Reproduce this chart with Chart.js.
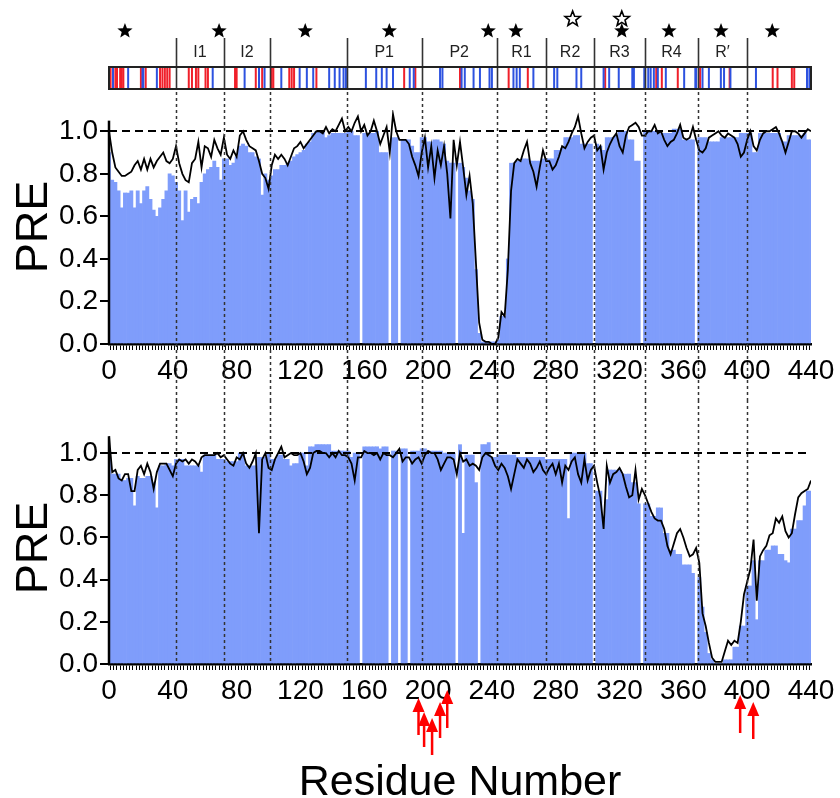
<!DOCTYPE html>
<html><head><meta charset="utf-8">
<script src="https://cdn.jsdelivr.net/npm/chart.js@4"></script>
<style>
html,body{margin:0;padding:0;background:#fff;}
#wrap{position:relative;width:840px;height:798px;overflow:hidden;}
#c1{position:absolute;left:0;top:0;}
#c2{position:absolute;left:0;top:400px;}
</style></head><body>
<div id="wrap"><canvas id="c1" width="840" height="400"></canvas><canvas id="c2" width="840" height="398"></canvas></div>
<script>
// ---- DATA (values every 2 residues, residue 0..440) ----
const topLine = [1.00,0.90,0.83,0.81,0.79,0.79,0.80,0.81,0.84,0.86,
 0.82,0.87,0.82,0.87,0.83,0.86,0.88,0.90,0.86,0.85,
 0.87,0.93,0.85,0.80,0.77,0.76,0.85,0.87,0.95,0.83,
 0.93,0.92,0.88,0.96,0.92,0.89,0.97,0.89,0.87,0.91,
 0.88,0.98,1.00,0.96,0.93,0.92,0.91,0.86,0.80,0.78,
 0.73,0.84,0.89,0.87,0.89,0.87,0.84,0.88,0.92,0.93,
 0.95,0.92,0.94,0.96,0.98,1.00,1.00,0.99,1.02,0.99,
 1.01,1.00,1.03,1.06,1.00,1.02,1.00,1.04,1.07,1.00,
 1.03,0.98,1.00,1.05,1.00,0.94,0.98,1.02,0.90,1.08,
 1.00,0.96,0.96,0.96,0.94,0.88,0.84,0.79,0.90,0.97,
 0.83,0.93,0.78,0.91,0.84,0.93,0.80,0.59,0.96,0.84,
 0.95,0.83,0.70,0.79,0.66,0.38,0.10,0.02,0.01,0.01,
 0.00,0.00,0.03,0.15,0.13,0.35,0.72,0.85,0.87,0.86,
 0.91,0.95,0.85,0.81,0.74,0.83,0.91,0.86,0.86,0.82,
 0.84,0.88,0.93,0.92,0.95,0.99,1.02,1.07,0.99,0.92,
 0.95,0.97,0.98,0.91,0.93,0.82,0.90,0.94,0.97,0.99,
 0.93,0.90,0.98,1.02,1.03,1.04,1.02,0.98,0.98,1.00,
 1.00,1.03,0.99,1.00,0.96,0.93,0.95,0.96,0.99,1.03,
 0.97,0.96,0.97,1.02,0.96,0.91,0.90,0.92,0.97,0.98,
 0.99,1.00,0.98,0.97,0.99,0.98,0.97,0.94,0.88,0.90,
 0.96,1.00,0.93,0.91,0.96,0.99,1.00,1.00,1.01,1.02,
 0.99,0.95,0.90,0.95,1.00,1.00,0.99,0.97,0.99,1.01,
 1.00];
const topBars = [0.90,0.77,0.76,0.72,0.64,0.71,0.71,0.72,0.64,0.72,
 0.66,0.72,0.74,0.68,0.63,0.60,0.64,0.68,0.72,0.80,
 0.79,0.76,0.72,0.58,0.72,0.62,0.68,0.69,0.66,0.76,
 0.80,0.82,0.83,0.86,0.83,0.77,0.87,0.87,0.84,0.85,
 0.88,0.93,0.94,0.93,0.90,0.90,0.88,0.87,0.70,0.80,
 0.77,0.79,0.82,0.82,0.84,0.84,0.85,0.86,0.88,0.89,
 0.90,0.91,0.94,0.95,0.99,1.00,1.00,1.00,0.97,0.98,
 0.99,0.99,0.99,0.99,0.99,1.00,1.00,0.98,0.98,null,
 0.99,0.99,0.99,0.99,1.00,0.90,0.90,0.90,null,0.97,
 0.97,null,0.96,0.96,0.96,0.93,0.90,0.90,0.97,0.97,
 0.95,0.95,0.96,0.96,0.95,0.94,0.86,0.85,0.85,null,
 0.85,0.83,0.78,0.72,0.68,0.35,0.05,0.01,0.01,0.01,
 0.01,0.01,0.02,0.13,0.13,0.40,0.85,0.85,0.86,0.86,
 0.87,0.87,0.86,0.86,0.86,0.86,0.87,0.87,0.87,0.87,
 0.91,0.91,0.92,0.97,0.97,0.97,0.98,0.98,0.94,0.94,
 0.94,0.94,null,0.94,0.93,0.91,0.97,0.97,0.97,0.98,
 1.00,1.00,1.00,0.96,0.96,0.86,0.86,null,1.00,1.00,
 1.00,1.00,1.00,0.99,0.99,0.99,0.99,1.01,1.01,1.01,
 0.96,0.96,0.96,0.96,null,0.97,0.97,0.97,0.95,0.95,
 0.95,0.95,0.97,0.97,0.97,0.97,0.97,0.97,0.99,0.99,
 0.99,0.99,0.90,0.90,0.99,0.99,0.99,0.99,0.99,0.99,
 0.99,0.95,0.95,0.98,0.98,0.98,0.98,0.98,0.99,0.96,
 0.96];
const botLine = [1.08,0.91,0.92,0.88,0.87,0.90,0.90,0.82,0.82,0.92,
 0.94,0.90,0.95,0.91,0.83,0.91,0.95,0.95,0.95,0.92,
 0.89,0.95,0.97,0.96,0.97,0.95,0.97,0.96,0.94,0.98,
 0.99,0.99,0.99,0.99,1.00,0.98,0.99,0.97,0.95,0.94,
 0.98,0.97,1.00,0.95,0.93,0.96,1.00,0.62,0.97,1.00,
 0.93,0.92,0.97,1.00,1.03,0.98,0.99,1.00,0.99,0.99,
 1.00,0.96,0.90,0.93,1.00,1.01,1.01,1.00,1.00,0.98,
 1.00,0.98,1.01,0.99,0.99,0.98,0.95,0.87,0.98,0.98,
 1.01,1.00,1.00,0.99,1.00,0.97,1.00,0.99,0.99,0.98,
 1.00,1.02,0.96,0.98,0.98,0.95,0.97,0.98,0.95,0.99,
 1.01,1.00,1.00,0.97,0.92,0.95,0.98,0.98,0.97,0.90,
 1.00,0.96,0.97,0.94,0.95,0.94,0.92,0.98,1.00,0.99,
 0.98,0.94,0.92,0.95,0.93,0.89,0.83,0.90,0.97,0.95,
 0.93,0.97,0.95,0.91,0.93,0.96,0.92,0.90,0.93,0.95,
 0.90,0.95,0.86,0.94,0.92,0.96,0.98,0.90,0.86,0.97,
 0.87,0.92,0.94,0.86,0.79,0.64,0.94,0.86,0.90,0.91,
 0.93,0.90,0.84,0.79,0.80,0.92,0.78,0.83,0.80,0.76,
 0.72,0.69,0.68,0.68,0.64,0.56,0.52,0.57,0.62,0.64,
 0.60,0.55,0.51,0.52,0.55,0.48,0.24,0.18,0.10,0.03,
 0.01,0.01,0.01,0.06,0.11,0.09,0.11,0.10,0.20,0.33,
 0.39,0.45,0.59,0.30,0.51,0.54,0.56,0.61,0.62,0.69,
 0.67,0.70,0.63,0.60,0.62,0.71,0.79,0.81,0.82,0.83,
 0.87];
const botBars = [1.01,0.90,0.90,0.90,0.87,0.87,0.88,0.88,0.75,0.89,
 0.88,0.88,0.89,0.89,0.86,0.74,0.94,0.94,0.95,0.95,
 0.94,0.97,0.97,0.97,0.94,0.94,0.94,0.94,0.94,0.91,
 0.99,0.99,0.99,0.99,0.97,0.97,0.97,0.96,0.96,0.96,
 0.96,1.00,1.00,0.94,0.94,0.94,0.94,0.98,0.98,0.98,
 1.00,0.97,0.97,0.99,0.99,0.97,0.97,0.94,0.95,0.95,
 1.00,1.00,0.94,1.03,1.03,1.04,1.04,1.04,1.04,1.04,
 1.01,1.01,1.01,1.01,1.01,1.01,0.98,1.00,1.00,null,
 1.03,1.03,1.03,1.03,1.03,1.02,1.03,1.03,null,1.01,
 1.01,null,1.02,1.02,null,1.01,1.01,1.01,1.02,1.02,
 1.01,1.01,1.01,1.01,1.01,1.00,1.00,1.00,1.00,null,
 1.04,0.62,0.99,0.99,0.99,0.86,null,1.04,1.04,1.05,
 0.98,0.98,0.99,0.99,0.99,0.99,0.99,0.99,0.98,0.98,
 0.98,0.98,0.98,0.98,0.98,0.98,0.98,0.97,0.97,0.97,
 0.97,0.97,0.97,0.97,0.69,1.00,1.00,1.00,1.00,1.00,
 0.95,0.95,null,0.82,0.82,0.68,0.78,0.92,0.92,0.92,
 0.92,0.90,0.90,0.90,0.86,0.86,0.76,null,0.76,0.76,
 0.70,0.70,0.74,0.74,0.62,0.62,0.54,0.54,0.52,0.52,
 0.47,0.47,0.47,0.43,null,0.41,0.27,0.15,0.05,0.02,
 0.00,0.00,0.00,0.02,0.02,0.02,0.08,0.08,0.18,0.18,
 0.37,0.37,0.49,0.21,0.49,0.49,0.54,0.54,0.56,0.56,
 0.52,0.52,0.49,0.48,0.64,0.64,0.68,0.68,0.75,0.82,
 0.82];

// x tick labels shown (every 40 residues)
const xTickLabels = [0,40,80,120,160,200,240,280,320,360,400,440];
// domain map
const domainBounds = [42,72,101,149,196,243,274,304,336,369,400];
const domainNames = ['I1','I2','P1','P2','R1','R2','R3','R4','R\u2032'];
const domainStart = [42,72,149,196,243,274,304,336,369];
const domainEnd   = [72,101,196,243,274,304,336,369,400];
const redSites = [1,4,5,7,8,9,20,23,32,33.5,35,36.5,38,50,52,54.5,56,60.5,62,79,80,92,96,102,103,113,114.5,116,130,185,192,220,250.5,262.5,311,343,346.5,356.5,370.5,389,416,419,428,429.5];
const blueSites = [2.5,12,21,21.5,30,65,85,94,97.5,108,119.5,124,128,138,141.5,144.5,147,148.5,161,167.5,171,174,178,188.5,191,207.5,209,221,223,228.5,232.5,238.5,240,253.5,255.5,257.5,266,279,281,293,296,310,313.5,319.5,328,329,335.5,338,339.5,341.5,344,349,360.5,367.5,368,372,376,383.5,385.5,389.5,405.5,437.5,439];
const filledStars = [10,69,123,175.7,237.7,255,321.4,351,383.6,415.7];
const openStars = [290.6,321.4];
// mutation sites marked by red arrows under the lower panel
const arrowSites = [194,197.5,202.5,207.5,212,395.6,403.8];

// ---- styling ----
const FONT = "'Liberation Sans', Arial, Helvetica, sans-serif";
const BAR_COLOR = '#7f9dfb';
const arrowY = [[698,735],[712,747],[718,755],[702,738],[690,728],[695,733],[702,739]]; // tip, tail (page px)

const residues = topLine.map((_, i) => i * 2);
const toXY = arr => arr.map((v, i) => ({x: residues[i], y: v}));

function seg(ctx, x0, y0, x1, y1) { ctx.beginPath(); ctx.moveTo(x0, y0); ctx.lineTo(x1, y1); ctx.stroke(); }
function starPath(ctx, cx, cy, R, r) {
  ctx.beginPath();
  for (let i = 0; i < 10; i++) {
    const ang = -Math.PI / 2 + i * Math.PI / 5;
    const rad = i % 2 ? r : R;
    ctx.lineTo(cx + rad * Math.cos(ang), cy + rad * Math.sin(ang));
  }
  ctx.closePath();
}

const refLines = {
  id: 'refLines',
  afterDatasetsDraw(chart, args, opts) {
    const {ctx, chartArea: a, scales: {x, y}} = chart;
    ctx.save();
    ctx.strokeStyle = '#000'; ctx.lineWidth = 2; ctx.setLineDash([8, 5]);
    const yy = Math.round(y.getPixelForValue(1));
    seg(ctx, a.left, yy, a.right, yy);
    ctx.setLineDash([3, 3]); ctx.lineWidth = 1.5; ctx.strokeStyle = '#333';
    domainBounds.forEach(b => {
      const px = Math.round(x.getPixelForValue(b)) + 0.5;
      seg(ctx, px, opts.vTop, px, opts.vBottom === 'area' ? a.bottom : chart.height);
    });
    ctx.setLineDash([]); ctx.strokeStyle = '#000'; ctx.lineWidth = 2.5;
    seg(ctx, a.left, y.getPixelForValue(0) + 1, a.left, y.getPixelForValue(opts.axisTop));
    ctx.restore();
  }
};

const header = {
  id: 'header',
  afterDraw(chart) {
    const {ctx, scales: {x}} = chart;
    const X = v => x.getPixelForValue(v);
    const top = 67, bot = 89;
    ctx.save();
    ctx.lineWidth = 2;
    ctx.strokeStyle = '#f0202a';
    redSites.forEach(r => seg(ctx, X(r), top, X(r), bot));
    ctx.strokeStyle = '#2d52e0';
    blueSites.forEach(r => seg(ctx, X(r), top, X(r), bot));
    ctx.strokeStyle = '#333'; ctx.lineWidth = 1.6;
    domainBounds.forEach(b => { const px = Math.round(X(b)) + 0.5; seg(ctx, px, 38, px, bot); });
    ctx.strokeStyle = '#222'; ctx.lineWidth = 2;
    ctx.strokeRect(X(0), top, X(440) - X(0), bot - top);
    ctx.fillStyle = '#222'; ctx.font = '16px ' + FONT; ctx.textAlign = 'center'; ctx.textBaseline = 'middle';
    domainNames.forEach((n, i) => ctx.fillText(n, (X(domainStart[i]) + X(domainEnd[i])) / 2, 53));
    // stars
    openStars.forEach(r => {
      starPath(ctx, X(r), 19, 8, 3.4);
      ctx.fillStyle = '#fff'; ctx.fill();
      ctx.strokeStyle = '#000'; ctx.lineWidth = 1.6; ctx.lineJoin = 'miter'; ctx.stroke();
    });
    ctx.fillStyle = '#000';
    filledStars.forEach(r => { starPath(ctx, X(r), 31, 8, 3.4); ctx.fill(); });
    ctx.restore();
  }
};

const arrows = {
  id: 'arrows',
  afterDraw(chart) {
    const {ctx, scales: {x}} = chart;
    ctx.save();
    ctx.strokeStyle = '#ff0000'; ctx.fillStyle = '#ff0000'; ctx.lineWidth = 2.5;
    arrowSites.forEach((r, i) => {
      const px = x.getPixelForValue(r);
      const tip = arrowY[i][0] - 400, tail = arrowY[i][1] - 400;
      seg(ctx, px, tail, px, tip + 10);
      ctx.beginPath(); ctx.moveTo(px, tip); ctx.lineTo(px - 6, tip + 14); ctx.lineTo(px + 6, tip + 14); ctx.closePath(); ctx.fill();
    });
    ctx.restore();
  }
};

function makeChart(id, bars, line, cfg) {
  return new Chart(document.getElementById(id), {
    type: 'bar',
    data: { datasets: [
      { type: 'line', data: toXY(line), borderColor: '#000', borderWidth: 1.8, pointRadius: 0, tension: 0, order: 0, spanGaps: true },
      { type: 'bar', data: toXY(bars), backgroundColor: BAR_COLOR, borderWidth: 0, barPercentage: 1, categoryPercentage: 1, order: 1 }
    ]},
    options: {
      responsive: false, animation: false, devicePixelRatio: 1,
      layout: { padding: { top: cfg.padTop, right: 29, left: 0, bottom: 0 } },
      plugins: { legend: { display: false }, tooltip: { enabled: false }, refLines: cfg.ref },
      scales: {
        x: {
          type: 'linear', min: 0, max: 440, offset: false, z: 1,
          grid: { display: true, drawOnChartArea: false, drawTicks: true, tickLength: 6, color: '#000', lineWidth: 1 },
          border: { display: true, color: '#000', width: 2.5 },
          ticks: { stepSize: 2, autoSkip: false, maxRotation: 0, minRotation: 0, maxTicksLimit: 1000, padding: 4, color: '#000',
            font: { family: FONT, size: 28 },
            callback: v => xTickLabels.includes(v) ? String(v) : '' },
          title: cfg.xTitle,
          afterFit: s => { s.height = cfg.xH; }
        },
        y: {
          min: 0, max: 1.1, z: 1,
          grid: { display: true, drawOnChartArea: false, tickLength: 9, color: '#000', lineWidth: 2 },
          border: { display: false },
          ticks: { stepSize: 0.2, includeBounds: false, padding: 2, color: '#000', font: { family: FONT, size: 28 },
            callback: v => v.toFixed(1) },
          title: { display: true, text: 'PRE', color: '#000', font: { family: FONT, size: 45 }, padding: { top: 8, bottom: 0 } },
          afterFit: s => { s.width = 109; }
        }
      }
    },
    plugins: cfg.plugins
  });
}

makeChart('c1', topBars, topLine, {
  padTop: 110, xH: 56, xTitle: { display: false },
  ref: { vTop: 92, vBottom: 'canvas', axisTop: 1.05 },
  plugins: [refLines, header]
});
makeChart('c2', botBars, botLine, {
  padTop: 32, xH: 134,
  xTitle: { display: true, text: 'Residue Number', color: '#000', font: { family: FONT, size: 43, lineHeight: 0.7 }, padding: { top: 0, bottom: 0 } },
  ref: { vTop: 0, vBottom: 'area', axisTop: 1.08 },
  plugins: [refLines, arrows]
});
</script>
</body></html>
